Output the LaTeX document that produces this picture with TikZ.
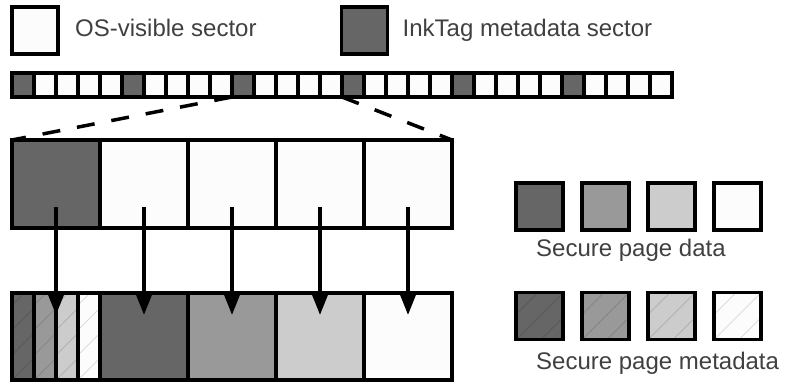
\documentclass[tikz,border=0pt]{standalone}
\usepackage{fontspec}
\setmainfont{Liberation Sans}
\usetikzlibrary{positioning, arrows.meta}

\definecolor{darkfill}{HTML}{666666}
\definecolor{midfill}{HTML}{999999}
\definecolor{lightfill}{HTML}{CCCCCC}
\definecolor{whitefill}{HTML}{FCFCFC}
\definecolor{labelgray}{HTML}{404040}

\tikzset{
  cell/.style={draw=black, line width=3.5pt, rectangle, outer sep=0pt, inner sep=0pt},
  sector/.style={cell, line width=4pt, minimum width=22pt, minimum height=24pt},
  hatch/.style={path picture={
      \foreach \k in {-100,-75,...,60}
        \draw[black, draw opacity=.15, line width=.7pt]
          ([xshift=\k pt]path picture bounding box.south west) -- ++(140pt,140pt);}},
  legendtext/.style={font=\fontsize{24}{28}\selectfont, text=labelgray, anchor=west,
    inner sep=0pt, text height=17pt, text depth=5pt},
  moveto/.style={-{Triangle[length=24pt,width=18pt]}, line width=3.5pt}
}

\begin{document}
\begin{tikzpicture}[x=1pt, y=-1pt]
\useasboundingbox (0,0) rectangle (786,388);

% legend for the two kinds of sector
\node[cell, fill=whitefill, minimum width=46pt, minimum height=47pt] (osbox) at (35,30.5) {};
\node[legendtext, right=17pt of osbox] (ostext) {OS-visible sector};
\node[cell, fill=darkfill, minimum width=46pt, minimum height=47pt] (metabox) at (364.5,30.5) {};
\node[legendtext, right=15pt of metabox] (metatext) {InkTag metadata sector};

% the disk: every fifth sector holds metadata
\foreach \i in {0,...,29} {
  \pgfmathtruncatemacro\r{mod(\i,5)}
  \ifnum\r=0 \def\sfill{darkfill}\else \def\sfill{whitefill}\fi
  \node[sector, fill=\sfill] (s\i) at (23+22*\i,85) {};
}

% one page worth of sectors, blown up
\foreach \i/\f in {0/darkfill,1/whitefill,2/whitefill,3/whitefill,4/whitefill}
  \node[cell, fill=\f, minimum width=88pt, minimum height=88pt] (d\i) at (56+88*\i,184) {};

\draw[line width=3.5pt, dash pattern=on 18pt off 17pt] (s10.south west) -- (d0.north west);
\draw[line width=3.5pt, dash pattern=on 18pt off 17pt] (s15.south west) -- (d4.north east);

% bottom row: metadata sector split into four slices
\foreach \i/\f in {0/darkfill,1/midfill,2/lightfill,3/whitefill}
  \node[cell, hatch, fill=\f, minimum width=22pt, minimum height=87pt] (slice\i) at (23+22*\i,336.5) {};
\node[cell, minimum width=88pt, minimum height=87pt] (q0) at (56,336.5) {};
\foreach \i/\f in {1/darkfill,2/midfill,3/lightfill,4/whitefill}
  \node[cell, fill=\f, minimum width=88pt, minimum height=87pt] (q\i) at (56+88*\i,336.5) {};

% each sector goes to its secure page
\foreach \i in {0,...,4}
  \draw[moveto] ([yshift=-23pt]d\i.center) -- ([yshift=-22pt]q\i.north);

% legend for the secure page shades
\foreach \i/\f in {0/darkfill,1/midfill,2/lightfill,3/whitefill} {
  \node[cell, fill=\f, minimum size=47pt] (key\i) at (539.5+66*\i,206.5) {};
  \node[cell, hatch, fill=\f, minimum size=47pt] (hkey\i) at (539.5+66*\i,316) {};
}
\node[legendtext] (datatext) at (536,250) {Secure page data};
\node[legendtext] (metadatatext) at (536,363) {Secure page metadata};

\end{tikzpicture}
\end{document}
